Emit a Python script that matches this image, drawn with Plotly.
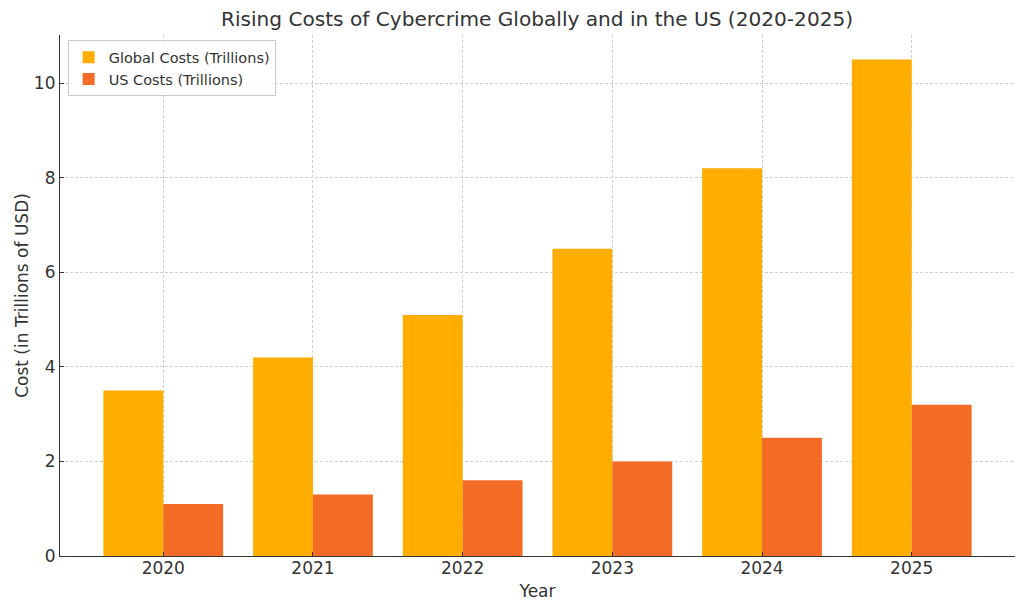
import plotly.graph_objects as go

years = ["2020", "2021", "2022", "2023", "2024", "2025"]
global_costs = [3.5, 4.2, 5.1, 6.5, 8.2, 10.5]
us_costs = [1.1, 1.3, 1.6, 2.0, 2.5, 3.2]

xpos = list(range(len(years)))

fig = go.Figure()
fig.add_trace(go.Bar(x=xpos, y=global_costs, name="Global Costs (Trillions)",
                     marker=dict(color="#FFAE00", line=dict(width=0))))
fig.add_trace(go.Bar(x=xpos, y=us_costs, name="US Costs (Trillions)",
                     marker=dict(color="#F46B25", line=dict(width=0))))

# page body has an 8px default margin; size the figure to fit the window
fig.update_layout(
    width=1016, height=603,
    barmode="group", bargap=0.2, bargroupgap=0,
    plot_bgcolor="white", paper_bgcolor="white",
    margin=dict(l=52, r=9, t=27, b=55),
    font=dict(family="DejaVu Sans", color="#333333"),
    title=dict(text="Rising Costs of Cybercrime Globally and in the US (2020-2025)",
               x=0.5207, xanchor="center", y=0.982, yanchor="middle",
               font=dict(size=20.1, color="#333333")),
    legend=dict(x=0.008, y=0.99, xanchor="left", yanchor="top",
                bgcolor="rgba(255,255,255,0.8)", bordercolor="#cccccc", borderwidth=1,
                font=dict(size=14.5, color="#333333"), tracegroupgap=0),
    xaxis=dict(
        range=[-0.69, 5.69], tickvals=xpos, ticktext=years,
        showgrid=True, gridcolor="#d0d0d0", griddash="3px,2px", gridwidth=1,
        showline=True, linecolor="#333333", linewidth=1.2,
        ticks="inside", ticklen=4, tickcolor="#333333",
        tickfont=dict(size=17), zeroline=False, automargin=False,
        ticklabelstandoff=-4,
        title=dict(text="Year", font=dict(size=17), standoff=8),
    ),
    yaxis=dict(
        range=[0, 11.02], tickvals=[0, 2, 4, 6, 8, 10],
        showgrid=True, gridcolor="#d0d0d0", griddash="3px,2px", gridwidth=1,
        showline=True, linecolor="#333333", linewidth=1.2,
        ticks="inside", ticklen=4, tickcolor="#333333",
        tickfont=dict(size=17), zeroline=False, automargin=False,
        title=dict(text="Cost (in Trillions of USD)", font=dict(size=17), standoff=0),
    ),
)

fig.write_html("out.html")
